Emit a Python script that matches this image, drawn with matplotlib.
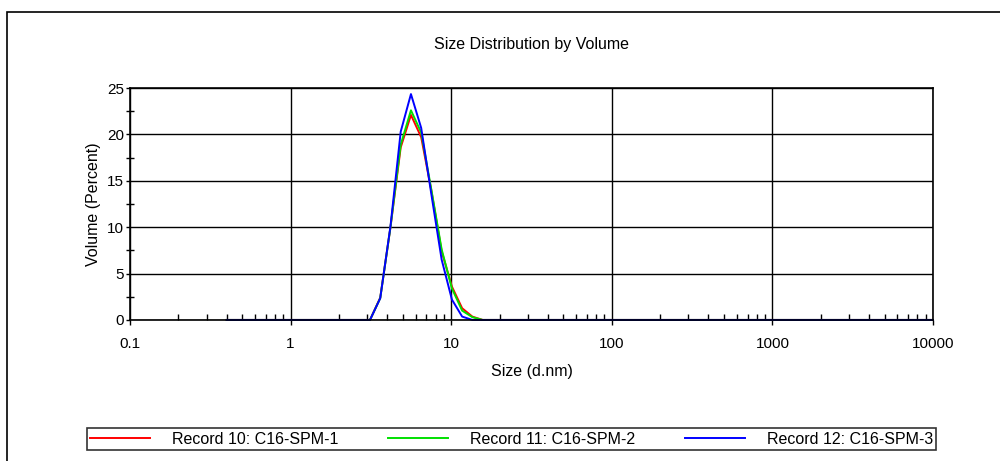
"""
Size Distribution by Volume - three DLS records
"""
import matplotlib
matplotlib.use('Agg')
import matplotlib.pyplot as plt
from matplotlib.patches import Rectangle
from matplotlib.ticker import FixedLocator, FixedFormatter, LogLocator, MultipleLocator, NullFormatter

plt.rcParams['font.family'] = ['Liberation Sans', 'DejaVu Sans']

# size bins (d.nm), standard 70-bin log grid
size_nm = [0.4, 0.4632, 0.5365, 0.6213, 0.7195, 0.8332, 0.9649, 1.117, 1.294, 1.499,
           1.736, 2.01, 2.328, 2.696, 3.122, 3.615, 4.187, 4.849, 5.615, 6.503,
           7.531, 8.721, 10.1, 11.7, 13.54, 15.69, 18.17, 21.04, 24.36, 28.21,
           32.67, 37.84, 43.82, 50.75, 58.77, 68.06, 78.82, 91.28, 105.7, 122.4,
           141.8, 164.2, 190.1, 220.2, 255.0, 295.3, 342.0, 396.1, 458.7, 531.2,
           615.1, 712.4, 825.0, 955.4, 1106, 1281, 1484, 1718, 1990, 2305,
           2669, 3091, 3580, 4145, 4801, 5560, 6439, 7456, 8635, 10000]

# volume % for bins 3.122 .. 15.69, everything else is 0
rec10_peak = [0.0, 2.4, 10.0, 18.6, 22.1, 19.7, 13.9, 7.4, 3.6, 1.26, 0.36, 0.0]
rec11_peak = [0.0, 2.35, 10.0, 18.9, 22.6, 20.2, 14.0, 7.6, 3.4, 1.0, 0.3, 0.0]
rec12_peak = [0.0, 2.34, 10.1, 20.3, 24.35, 20.7, 13.5, 6.5, 2.2, 0.36, 0.0, 0.0]

labels = ['Record 10: C16-SPM-1', 'Record 11: C16-SPM-2', 'Record 12: C16-SPM-3']
colors = ['#ff0000', '#00e000', '#0000ff']

x_ticks = [0.1, 1, 10, 100, 1000, 10000]
x_ticklabels = ['0.1', '1', '10', '100', '1000', '10000']
y_ticks = [0, 5, 10, 15, 20, 25]


def full_series(peak):
    """pad the peak values with zeros over the whole bin grid"""
    start = size_nm.index(3.122)
    vals = [0.0] * len(size_nm)
    vals[start:start + len(peak)] = peak
    return vals


fig = plt.figure(figsize=(10, 4.61), dpi=100)
ax = fig.add_axes([0.130, 0.306, 0.803, 0.503])

for peak, lab, col in zip([rec10_peak, rec11_peak, rec12_peak], labels, colors):
    ax.plot(size_nm, full_series(peak), color=col, lw=1.4, label=lab, clip_on=False)

ax.set_xscale('log')
ax.set_xlim(0.1, 10000)
ax.set_ylim(0, 25)
ax.xaxis.set_major_locator(FixedLocator(x_ticks))
ax.xaxis.set_major_formatter(FixedFormatter(x_ticklabels))
ax.xaxis.set_minor_locator(LogLocator(base=10, subs=range(2, 10)))
ax.xaxis.set_minor_formatter(NullFormatter())
ax.yaxis.set_major_locator(FixedLocator(y_ticks))
ax.yaxis.set_minor_locator(MultipleLocator(2.5))

ax.grid(True, which='major', color='black', lw=1)
for s in ax.spines.values():
    s.set_linewidth(1.2)
ax.tick_params(axis='x', which='major', direction='out', length=3.6, width=1,
               labelsize=11, pad=9)
ax.tick_params(axis='y', which='major', direction='out', length=3, width=1,
               labelsize=11, pad=1.5)
ax.tick_params(axis='x', which='minor', direction='in', length=4, width=1)
ax.tick_params(axis='y', which='minor', direction='inout', length=6, width=1)

ax.set_title('Size Distribution by Volume', fontsize=11.5, pad=28)
ax.set_xlabel('Size (d.nm)', fontsize=11.5, labelpad=9)
ax.set_ylabel('Volume (Percent)', fontsize=11.5, labelpad=4)

leg = fig.legend(loc='center', bbox_to_anchor=(0.5115, 1 - 439 / 461), ncol=3,
                 fontsize=11.5, frameon=True, fancybox=False, handlelength=3.75,
                 handletextpad=1.4, columnspacing=3.1, borderpad=0.2,
                 borderaxespad=0)
leg.get_frame().set_edgecolor('black')
leg.get_frame().set_linewidth(1.2)

# outer frame, runs off the right and bottom edges
fig.patches.append(Rectangle((0.007, -0.1), 1.1, 1.1 - 12 / 461,
                             transform=fig.transFigure, fill=False,
                             edgecolor='black', lw=1.2))

plt.savefig('out.png', dpi=100)
